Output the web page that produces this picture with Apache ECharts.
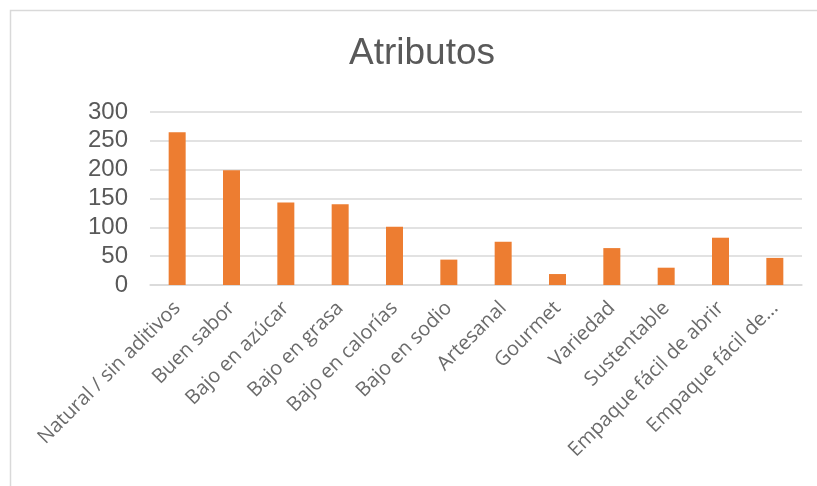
<!DOCTYPE html>
<html>
<head>
<meta charset="utf-8">
<script src="https://cdn.jsdelivr.net/npm/echarts@6/dist/echarts.min.js"></script>
<style>html,body{margin:0;padding:0;background:#fff;}#c{width:817px;height:486px;}</style>
</head>
<body>
<div id="c"></div>
<script>
const categories = ["Natural / sin aditivos","Buen sabor","Bajo en azúcar","Bajo en grasa","Bajo en calorías","Bajo en sodio","Artesanal","Gourmet","Variedad","Sustentable","Empaque fácil de abrir","Empaque fácil de..."];
const values = [265,199,143,140,101,44,75,19,64,30,82,47];
const yTicks = [0,50,100,150,200,250,300];

const chart = echarts.init(document.getElementById('c'), null, {renderer:'canvas'});
chart.setOption({
  animation:false,
  backgroundColor:'#fff',
  title:{text:'Atributos', left:417, top:30, textAlign:'center',
    textStyle:{fontFamily:'Liberation Sans', fontSize:37, fontWeight:'normal', color:'#595959'}},
  graphic:[{type:'rect', shape:{x:10.5,y:10.5,width:1000,height:600}, style:{fill:'none', stroke:'#d9d9d9', lineWidth:1.5}, silent:true}],
  grid:{left:150, right:15, top:112, bottom:201, containLabel:false},
  xAxis:{type:'category', data:categories,
    axisLine:{lineStyle:{color:'#d9d9d9', width:1.5}},
    axisTick:{show:false},
    axisLabel:{rotate:45, interval:0, margin:20, fontFamily:'Open Sans', fontSize:20, color:'#6b6b6b'}},
  yAxis:{type:'value', min:yTicks[0], max:yTicks[yTicks.length-1], interval:50,
    axisLine:{show:false}, axisTick:{show:false},
    splitLine:{lineStyle:{color:'#d9d9d9', width:1.5}},
    axisLabel:{margin:22, fontFamily:'Liberation Sans', fontSize:24, color:'#595959'}},
  series:[{type:'bar', data:values, barWidth:17, itemStyle:{color:'#ED7D31'}}]
});
</script>
</body>
</html>
